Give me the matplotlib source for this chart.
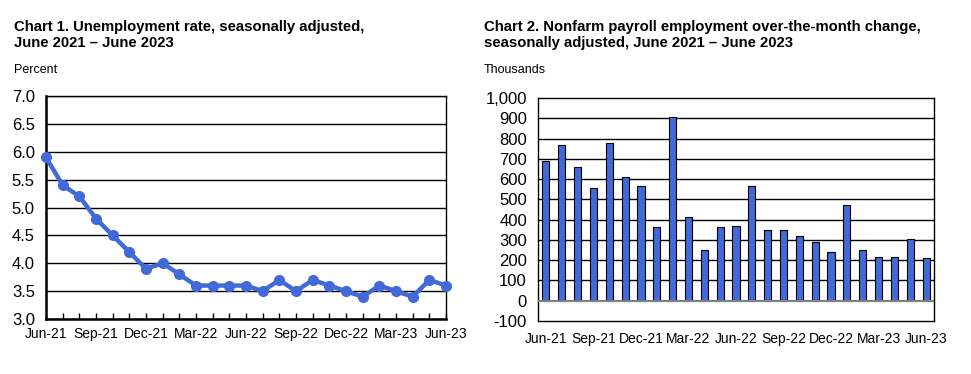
import matplotlib.pyplot as plt
import numpy as np

plt.rcParams['font.family'] = 'Liberation Sans'

months = ['Jun-21', 'Jul-21', 'Aug-21', 'Sep-21', 'Oct-21', 'Nov-21', 'Dec-21',
          'Jan-22', 'Feb-22', 'Mar-22', 'Apr-22', 'May-22', 'Jun-22', 'Jul-22',
          'Aug-22', 'Sep-22', 'Oct-22', 'Nov-22', 'Dec-22', 'Jan-23', 'Feb-23',
          'Mar-23', 'Apr-23', 'May-23', 'Jun-23']
unemployment = [5.9, 5.4, 5.2, 4.8, 4.5, 4.2, 3.9, 4.0, 3.8, 3.6, 3.6, 3.6, 3.6,
                3.5, 3.7, 3.5, 3.7, 3.6, 3.5, 3.4, 3.6, 3.5, 3.4, 3.7, 3.6]
payrolls = [690, 770, 660, 558, 780, 610, 568, 362, 905, 415, 252, 362, 370,
            568, 350, 350, 320, 290, 238, 472, 248, 217, 217, 306, 209]

blue = '#4169D8'
x = np.arange(len(months))
label_idx = x[::3]

fig = plt.figure(figsize=(9.71, 3.74), dpi=100)
W, H = 971, 374

def px_axes(l, t, r, b):
    return fig.add_axes([l / W, 1 - b / H, (r - l) / W, (b - t) / H])

# Chart 1
ax1 = px_axes(46, 96, 446, 319)
ax1.plot(x, unemployment, color=blue, lw=3.2, marker='o', ms=7, zorder=3, clip_on=False)
ax1.set_xlim(0, len(months) - 1)
ax1.set_ylim(3.0, 7.0)
yt1 = np.arange(3.0, 7.01, 0.5)
ax1.set_yticks(yt1)
ax1.set_yticklabels([f'{v:.1f}' for v in yt1], fontsize=12)
ax1.yaxis.grid(True, color='black', lw=1)
ax1.set_axisbelow(True)
ax1.tick_params(axis='y', length=0, pad=8)
ax1.set_xticks(x, minor=True)
ax1.set_xticks(label_idx)
ax1.set_xticklabels([months[i] for i in label_idx], fontsize=10)
ax1.tick_params(axis='x', which='both', direction='in', length=4, width=1, pad=6)
for s in ax1.spines.values():
    s.set_linewidth(1)
ax1.spines['left'].set_linewidth(1.8)
ax1.spines['bottom'].set_linewidth(1.8)

fig.text(14 / W, 1 - 20 / H, 'Chart 1. Unemployment rate, seasonally adjusted,\nJune 2021 \u2013 June 2023',
         fontsize=10.7, fontweight='bold', va='top', ha='left', linespacing=1.2)
fig.text(14 / W, 1 - 70 / H, 'Percent', fontsize=9, va='center', ha='left')

# Chart 2
ax2 = px_axes(538, 98, 934, 321)
ax2.bar(x, payrolls, width=0.45, color=blue, edgecolor='black', lw=0.8, zorder=3)
ax2.set_xlim(-0.5, len(months) - 0.5)
ax2.set_ylim(-100, 1000)
yt2 = np.arange(-100, 1001, 100)
ax2.set_yticks(yt2)
ax2.set_yticklabels([f'{v:,}' for v in yt2], fontsize=12)
for v in range(100, 1000, 100):
    ax2.axhline(v, color='black', lw=1, zorder=1)
ax2.axhline(0, color='#808080', lw=1.5, zorder=4)
ax2.tick_params(axis='y', length=0, pad=8)
ax2.set_xticks(label_idx)
ax2.set_xticklabels([months[i] for i in label_idx], fontsize=10)
ax2.tick_params(axis='x', length=0, pad=8)
for s in ax2.spines.values():
    s.set_linewidth(1)

fig.text(484 / W, 1 - 20 / H, 'Chart 2. Nonfarm payroll employment over-the-month change,\nseasonally adjusted, June 2021 \u2013 June 2023',
         fontsize=10.7, fontweight='bold', va='top', ha='left', linespacing=1.2)
fig.text(484 / W, 1 - 70 / H, 'Thousands', fontsize=9, va='center', ha='left')

fig.savefig('out.png', dpi=100)
